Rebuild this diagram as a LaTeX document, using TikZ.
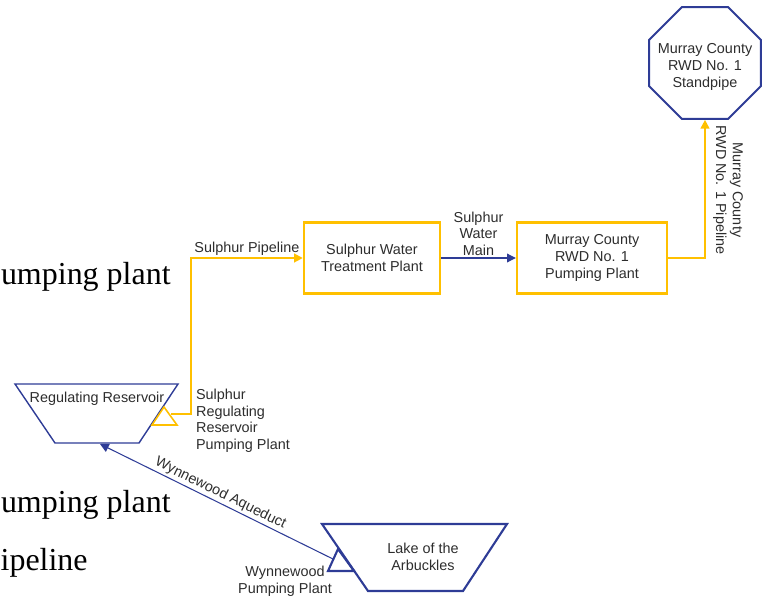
\documentclass[tikz,border=0pt]{standalone}
\usepackage{fontspec}
\setmainfont{Liberation Sans}
\newfontfamily\legendfont{Liberation Serif}
\usetikzlibrary{shapes.geometric,arrows.meta}
\definecolor{pipeyellow}{RGB}{255,192,0}
\definecolor{pipeblue}{RGB}{46,60,150}
\definecolor{labelgray}{RGB}{45,45,45}
\newcommand{\lbl}{\fontsize{8.2}{9.5}\selectfont}
\tikzset{plant/.style={draw=pipeyellow, line width=1.4pt, minimum height=1.42cm, align=center, font=\lbl, text=labelgray},
         tank/.style={draw=pipeblue, regular polygon, regular polygon sides=8, minimum size=2.42cm, inner sep=0pt, line width=1.1pt},
         lbl/.style={font=\lbl, text=labelgray, align=center, inner sep=1pt},
         yline/.style={draw=pipeyellow, line width=1.1pt},
         bline/.style={draw=pipeblue, line width=0.6pt},
         legend/.style={font=\legendfont\fontsize{18.2}{22}\selectfont, anchor=base east, inner sep=0pt}}

\begin{document}
\begin{tikzpicture}[x=0.02cm, y=-0.02cm, >={Triangle[length=5pt, width=5pt]}]
                    \useasboundingbox (0,0) rectangle (770,598);
                    \clip (0,0) rectangle (770,598);

                    \node[legend] (leg1) at (171,284) {pumping plant};
                    \node[legend] (leg2) at (171,512) {pumping plant};
                    \node[legend] (leg3) at (88,570) {pipeline};

                    \node[plant, minimum width=2.72cm] (wtp) at (372,258) {Sulphur Water\\Treatment Plant};
                    \node[plant, minimum width=3cm] (rwdpp) at (592,258) {Murray County\\RWD No. 1\\Pumping Plant};
                    \node[tank] (standpipe) at (705,63) {};
                    \node[lbl] (sptext) at (705,67) {Murray County\\RWD No. 1\\Standpipe};

                    \draw[draw=pipeblue, line width=0.8pt] (15,384) -- (178,384) -- (139,443) -- (55,443) -- cycle;
                    \node[lbl] (res) at (97,399) {Regulating Reservoir};
                    \draw[draw=pipeyellow, line width=0.9pt] (164,407) -- (177,425) -- (152,425) -- cycle;
                    \coordinate (srrpp) at (171,414);
                    \node[lbl, anchor=north west, align=left] (srrpplbl) at (194,387) {Sulphur\\Regulating\\Reservoir\\Pumping Plant};

                    \draw[draw=pipeblue, line width=1.2pt] (322,524) -- (507,524) -- (463,591) -- (368,591) -- cycle;
                    \node[lbl] (lake) at (423,557) {Lake of the\\Arbuckles};
                    \draw[draw=pipeblue, line width=1.2pt] (338,549) -- (354,571) -- (328,571) -- cycle;
                    \coordinate (wpp) at (333,559);
                    \coordinate (resbot) at (100,444);
                    \node[lbl] (wpplbl) at (285,581) {Wynnewood\\Pumping Plant};

                    \draw[yline, ->, color=pipeyellow] (srrpp) -- (191,414) |- (wtp.west)
                        node[lbl, pos=0.75, above] {Sulphur Pipeline};
                    \draw[bline, ->] (wtp.east) -- (rwdpp.west)
                        node[lbl, midway, above] {Sulphur\\Water\\Main};
                    \draw[yline, ->, color=pipeyellow] (rwdpp.east) -| (standpipe.south);
                    \node[lbl, rotate=-90] (rwdpipe) at (728,190) {Murray County\\RWD No. 1 Pipeline};
                    \draw[bline, ->] (wpp) -- (resbot)
                        node[lbl, midway, above, sloped] {Wynnewood Aqueduct};

                 \end{tikzpicture}
\end{document}
